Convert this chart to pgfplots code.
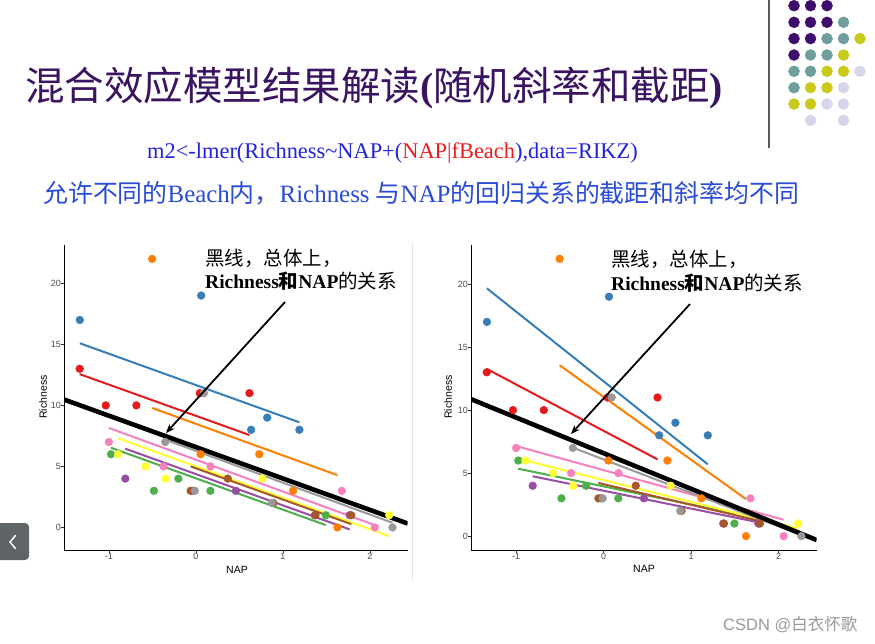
\documentclass[border=0pt]{standalone}
\usepackage{pgfplots}
\pgfplotsset{compat=1.18}
\usepackage{fontspec}
\usetikzlibrary{arrows.meta}
\setmainfont{Liberation Serif}
\newfontfamily\cjk{Noto Sans CJK SC}
\newfontfamily\plotfont{Liberation Sans}

\definecolor{ttl}{HTML}{3A1460}
\definecolor{cblue}{HTML}{2222DD}
\definecolor{cblue2}{HTML}{2A4BD7}
\definecolor{cred}{HTML}{EE1C1C}
\definecolor{btn}{HTML}{5F6566}
% Set1 palette, beaches 1..9
\definecolor{b1}{HTML}{E41A1C}
\definecolor{b2}{HTML}{377EB8}
\definecolor{b3}{HTML}{4DAF4A}
\definecolor{b4}{HTML}{984EA3}
\definecolor{b5}{HTML}{FF7F00}
\definecolor{b6}{HTML}{FFFF33}
\definecolor{b7}{HTML}{A65628}
\definecolor{b8}{HTML}{F781BF}
\definecolor{b9}{HTML}{999999}
% slide decoration
\definecolor{dpur}{HTML}{3F0E6C}
\definecolor{dteal}{HTML}{6E9F9C}
\definecolor{dyel}{HTML}{C9CA1C}
\definecolor{dlav}{HTML}{D6D6EA}

\pgfplotsset{
  rplot/.style={
    scale only axis, height=305pt,
    axis lines=left, axis line style={-, line width=0.6pt, black},
    tick align=outside, major tick length=3pt,
    tick style={line width=0.5pt, black!80},
    xtick={-1,0,1,2}, xticklabels={-1,0,1,2},
    ytick={0,5,10,15,20}, yticklabels={0,5,10,15,20},
    tick label style={font=\plotfont\fontsize{9}{10}\selectfont, text=black!70},
    xmin=-1.516, xmax=2.435,
  },
  fit/.style={no markers, line width=2pt},
  pts/.style={only marks, mark=*, mark size=3.9pt},
}

\begin{document}
\begin{tikzpicture}[x=1pt,y=1pt, every node/.style={inner sep=0pt}]
\useasboundingbox (0,0) rectangle (875,-643);
\fill[white] (0,0) rectangle (875,-643);

% decoration dots, top right
\begin{axis}[at={(0pt,0pt)}, anchor=north west, hide axis, scale only axis,
  width=875pt, height=643pt, xmin=0, xmax=875, ymin=0, ymax=643,
  y dir=reverse, clip=false]
\addplot[only marks, mark=*, mark size=5.5pt, dpur] coordinates {
  (794,5.7) (810.5,5.7) (827,5.7) (794,22.3) (810.5,22.3) (827,22.3)
  (794,38.6) (810.5,38.6) (794,55)};
\addplot[only marks, mark=*, mark size=5.5pt, dteal] coordinates {
  (843.5,22.3) (827,38.6) (843.5,38.6) (810.5,55) (827,55)
  (794,71.3) (810.5,71.3) (794,87.7)};
\addplot[only marks, mark=*, mark size=5.5pt, dyel] coordinates {
  (860,38.6) (843.5,55) (827,71.3) (843.5,71.3) (810.5,87.7) (827,87.7)
  (794,104) (810.5,104)};
\addplot[only marks, mark=*, mark size=5.5pt, dlav] coordinates {
  (860,71.3) (843.5,87.7) (827,104) (843.5,104) (810.5,120.4) (843.5,120.4)};
\end{axis}
\draw[line width=1.4pt, black!65] (769,0) -- (769,-148);

% titles
\node[anchor=west, text=ttl, font=\cjk\fontsize{39.5}{40}\selectfont] at (25,-88)
  {混合效应模型结果解读{\rmfamily\bfseries (}随机斜率和截距{\rmfamily\bfseries )}};
\node[anchor=west, text=cblue, font=\fontsize{22.4}{24}\selectfont] at (147,-153)
  {m2<-lmer(Richness\textasciitilde NAP+(\textcolor{cred}{NAP|fBeach}),data=RIKZ)};
\node[anchor=west, text=cblue2, font=\fontsize{24.9}{27}\selectfont] at (43,-193)
  {{\cjk 允许不同的}Beach{\cjk 内，}Richness {\cjk 与}NAP{\cjk 的回归关系的截距和斜率均不同}};

% ---- left: random intercept ----
\begin{axis}[rplot, at={(64pt,-550pt)}, anchor=south west, width=343.7pt,
  ymin=-1.85, ymax=23.14]
\addplot[fit, b1] coordinates {(-1.336,12.56) (0.616,7.57)};
\addplot[fit, b2] coordinates {(-1.334,15.09) (1.190,8.61)};
\addplot[fit, b3] coordinates {(-0.976,6.53) (1.494,0.19)};
\addplot[fit, b4] coordinates {(-0.811,6.45) (1.768,-0.16)};
\addplot[fit, b5] coordinates {(-0.503,9.79) (1.627,4.28)};
\addplot[fit, b6] coordinates {(-0.893,7.30) (2.222,-0.71)};
\addplot[fit, b7] coordinates {(-0.060,5.00) (1.786,0.27)};
\addplot[fit, b8] coordinates {(-1.000,8.15) (2.057,0.19)};
\addplot[fit, b9] coordinates {(-0.352,7.19) (2.260,0.38)};
\addplot[no markers, line width=4.6pt, black] coordinates {(-1.516,10.48) (2.435,0.32)};
\addplot[pts, b1] coordinates {(0.045,11) (-1.036,10) (-1.336,13) (0.616,11) (-0.684,10)};
\addplot[pts, b2] coordinates {(1.190,8) (0.820,9) (0.635,8) (0.061,19) (-1.334,17)};
\addplot[pts, b3] coordinates {(-0.976,6) (1.494,1) (-0.201,4) (-0.482,3) (0.167,3)};
\addplot[pts, b4] coordinates {(1.768,1) (-0.030,3) (0.460,3) (1.367,1) (-0.811,4)};
\addplot[pts, b5] coordinates {(1.117,3) (-0.503,22) (0.729,6) (1.627,0) (0.054,6)};
\addplot[pts, b6] coordinates {(-0.578,5) (-0.348,4) (2.222,1) (-0.893,6) (0.766,4)};
\addplot[pts, b7] coordinates {(0.890,2) (1.786,1) (1.375,1) (-0.060,3) (0.367,4)};
\addplot[pts, b8] coordinates {(-1.000,7) (-0.372,5) (0.169,5) (1.678,3) (2.057,0)};
\addplot[pts, b9] coordinates {(-0.352,7) (0.092,11) (-0.011,3) (0.875,2) (2.260,0)};
\end{axis}

% ---- right: random intercept and slope ----
\begin{axis}[rplot, at={(471pt,-550pt)}, anchor=south west, width=345.7pt,
  ymin=-1.1, ymax=23.1]
\addplot[fit, b1] coordinates {(-1.336,13.27) (0.616,6.09)};
\addplot[fit, b2] coordinates {(-1.334,19.66) (1.190,5.70)};
\addplot[fit, b3] coordinates {(-0.976,5.35) (1.494,1.80)};
\addplot[fit, b4] coordinates {(-0.811,4.75) (1.768,1.10)};
\addplot[fit, b5] coordinates {(-0.503,13.56) (1.627,2.93)};
\addplot[fit, b6] coordinates {(-0.893,6.00) (2.222,0.60)};
\addplot[fit, b7] coordinates {(-0.060,4.22) (1.786,1.20)};
\addplot[fit, b8] coordinates {(-1.000,7.15) (2.057,1.30)};
\addplot[fit, b9] coordinates {(-0.352,7.02) (2.260,0.08)};
\addplot[no markers, line width=4.6pt, black] coordinates {(-1.516,10.87) (2.435,-0.31)};
\addplot[pts, b1] coordinates {(0.045,11) (-1.036,10) (-1.336,13) (0.616,11) (-0.684,10)};
\addplot[pts, b2] coordinates {(1.190,8) (0.820,9) (0.635,8) (0.061,19) (-1.334,17)};
\addplot[pts, b3] coordinates {(-0.976,6) (1.494,1) (-0.201,4) (-0.482,3) (0.167,3)};
\addplot[pts, b4] coordinates {(1.768,1) (-0.030,3) (0.460,3) (1.367,1) (-0.811,4)};
\addplot[pts, b5] coordinates {(1.117,3) (-0.503,22) (0.729,6) (1.627,0) (0.054,6)};
\addplot[pts, b6] coordinates {(-0.578,5) (-0.348,4) (2.222,1) (-0.893,6) (0.766,4)};
\addplot[pts, b7] coordinates {(0.890,2) (1.786,1) (1.375,1) (-0.060,3) (0.367,4)};
\addplot[pts, b8] coordinates {(-1.000,7) (-0.372,5) (0.169,5) (1.678,3) (2.057,0)};
\addplot[pts, b9] coordinates {(-0.352,7) (0.092,11) (-0.011,3) (0.875,2) (2.260,0)};
\end{axis}

% axis titles
\node[font=\plotfont\fontsize{10.5}{12}\selectfont, rotate=90] at (43,-397) {Richness};
\node[font=\plotfont\fontsize{10.5}{12}\selectfont] at (237,-570) {NAP};
\node[font=\plotfont\fontsize{10.5}{12}\selectfont, rotate=90] at (448,-397) {Richness};
\node[font=\plotfont\fontsize{10.5}{12}\selectfont] at (644,-569) {NAP};
\draw[black!10, line width=1pt] (412,-243) -- (412,-580);

% annotations
\node[anchor=west, font=\cjk\fontsize{19.5}{20}\selectfont] at (205,-258) {黑线，总体上，};
\node[anchor=west, font=\fontsize{19.5}{20}\selectfont] at (205,-281)
  {\textbf{Richness}{\cjk\bfseries 和}\textbf{NAP}{\cjk 的关系}};
\node[anchor=west, font=\cjk\fontsize{19.5}{20}\selectfont] at (611,-259) {黑线，总体上，};
\node[anchor=west, font=\fontsize{19.5}{20}\selectfont] at (611,-283)
  {\textbf{Richness}{\cjk\bfseries 和}\textbf{NAP}{\cjk 的关系}};
\draw[line width=1.8pt, -{Stealth[length=9pt,width=7pt]}] (285,-302) -- (166,-433);
\draw[line width=1.8pt, -{Stealth[length=9pt,width=7pt]}] (690,-304) -- (571,-434);

% slide chrome
\fill[btn, rounded corners=4pt] (-8,-523) rectangle (29,-560);
\draw[white, line width=1.5pt, line cap=round, line join=round]
  (15.5,-535.5) -- (10,-542) -- (15.5,-548.5);
\node[anchor=west, text=black!40, font=\plotfont\fontsize{16.5}{17}\selectfont] at (723,-625)
  {CSDN @{\cjk 白衣怀歌}};
\end{tikzpicture}
\end{document}
